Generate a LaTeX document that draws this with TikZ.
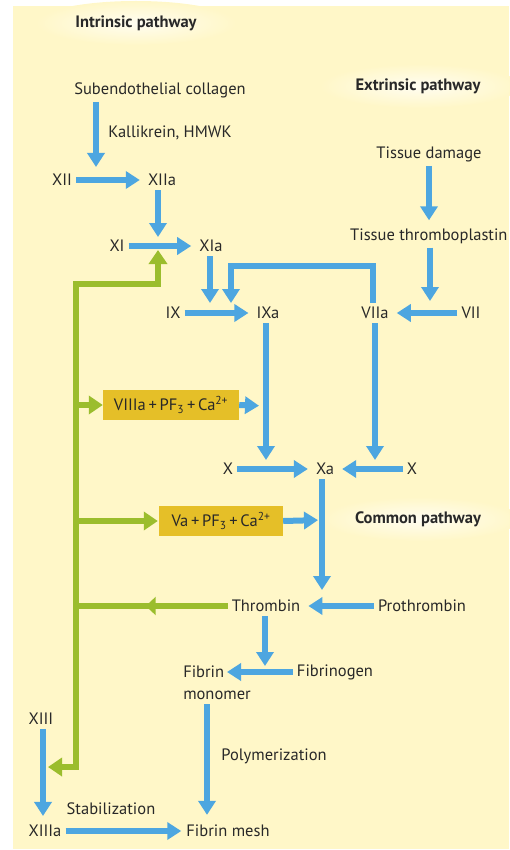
\documentclass[tikz,border=0pt]{standalone}
\usepackage{fontspec}
\setmainfont{PT Sans}
\usetikzlibrary{arrows.meta,decorations.markings}
\definecolor{bg}{RGB}{255,247,200}
\definecolor{cblue}{RGB}{77,166,224}
\definecolor{cgreen}{RGB}{155,189,45}
\definecolor{cgold}{RGB}{229,191,40}
\definecolor{ctext}{RGB}{40,40,40}
\begin{document}
\begin{tikzpicture}[x=1pt,y=-1pt,
  lbl/.style={inner sep=4pt, font=\fontsize{16.5}{19}\selectfont, text=ctext},
  head/.style={inner sep=4pt, font=\fontsize{16.5}{19}\selectfont\bfseries, text=ctext},
  gbox/.style={fill=cgold, inner sep=3pt, font=\fontsize{16.5}{19}\selectfont, text=ctext, minimum height=30pt},
  barrow/.style={draw=cblue, line width=6pt, -{Triangle[width=17pt,length=14pt]}, shorten >=4pt},
  gline/.style={draw=cgreen, line width=6pt},
  garrow/.style={gline, -{Triangle[width=18pt,length=14pt]}},
  glow/.style={inner color=white!75!bg, outer color=bg}
]
\useasboundingbox (0,0) rectangle (509,850);
\fill[bg] (13,6) rectangle (509,849);
% glows behind headings
\shade[glow] (136,23) ellipse [x radius=100, y radius=22];
\shade[glow] (420,86) ellipse [x radius=100, y radius=22];
\shade[glow] (420,519) ellipse [x radius=100, y radius=22];
% headings
\node[head] (intr) at (136,23) {Intrinsic pathway};
\node[head] (extr) at (418,86) {Extrinsic pathway};
\node[head] (comm) at (418,519) {Common pathway};
% intrinsic
\node[lbl] (sub) at (160,90) {Subendothelial collagen};
\node[lbl] (kal) at (170,133) {Kallikrein, HMWK};
\node[lbl] (XII) at (62,180) {XII};
\node[lbl] (XIIa) at (162,180) {XIIa};
\node[lbl] (XI) at (117,246) {XI};
\node[lbl] (XIa) at (211,246) {XIa};
% extrinsic
\node[lbl] (TD) at (429,154) {Tissue damage};
\node[lbl, anchor=west] (TT) at (346,236) {Tissue thromboplastin};
\node[lbl] (IX) at (173,313) {IX};
\node[lbl] (IXa) at (268,313) {IXa};
\node[lbl] (VIIa) at (375,313) {VIIa};
\node[lbl] (VII) at (471,313) {VII};
% cofactor boxes
\node[gbox, minimum width=136pt] (VIIIa) at (171,405) {VIIIa\,+\,PF\textsubscript{3}\,+\,Ca\textsuperscript{2+}};
\node[gbox, minimum width=124pt] (Va) at (221,521) {Va\,+\,PF\textsubscript{3}\,+\,Ca\textsuperscript{2+}};
% common
\node[lbl] (X1) at (228,469) {X};
\node[lbl] (Xa) at (325,469) {Xa};
\node[lbl] (X2) at (412,469) {X};
\node[lbl] (Thr) at (266,606) {Thrombin};
\node[lbl] (Pro) at (422,606) {Prothrombin};
\node[lbl, align=left, font=\fontsize{16.5}{22}\selectfont] (FM) at (217,683) {Fibrin\\monomer};
\node[lbl] (Fgen) at (335,672) {Fibrinogen};
\node[lbl] (Poly) at (274,756) {Polymerization};
\node[lbl] (XIII) at (41,719) {XIII};
\node[lbl] (Stab) at (111,809) {Stabilization};
\node[lbl] (XIIIa) at (45,831) {XIIIa};
\node[lbl] (mesh) at (228,831) {Fibrin mesh};
% coordinates on connectors
\coordinate (k1) at (96,178);
\coordinate (k2) at (158,245);
\coordinate (k7) at (210,312);
\coordinate (vtop) at (373,266);
\coordinate (k6) at (231,312);
\coordinate (k8) at (430,312);
\coordinate (k4) at (266,468);
\coordinate (k5) at (375,468);
\coordinate (kv) at (266,406);
\coordinate (kx) at (322,520);
\coordinate (k10) at (322,605);
\coordinate (k9) at (265,673);
\coordinate (k11) at (227,673);
\coordinate (tTop) at (76,284);
\coordinate (tBot) at (76,767);
\coordinate (k3) at (43,767);
% green feedback
\draw[gline, postaction={decorate}, decoration={markings, mark=at position 0.54 with {\arrow{Triangle[width=18pt,length=10pt]}}}] (Thr.west) -- (tTop |- Thr);
\draw[gline, {Triangle[width=18pt,length=14pt]}-{Triangle[width=18pt,length=14pt]}, shorten <=5pt, shorten >=5pt] (k2) |- (tTop) -- (tBot) -- (k3);
\draw[garrow] (tTop |- VIIIa) -- (VIIIa.west);
\draw[garrow, shorten >=1pt] (tTop |- Va) -- (Va.west);
% blue arrows
\draw[barrow, shorten >=11pt] (sub.south -| k1) -- (k1);
\draw[barrow] (XII) -- (XIIa);
\draw[barrow, shorten >=8pt] (XIIa.south -| k2) -- (k2);
\draw[barrow] (XI) -- (XIa);
\draw[barrow, shorten >=9pt] (XIa.south -| k7) -- (k7);
\draw[barrow] (TD) -- (TD |- TT.north);
\draw[barrow, shorten >=11pt] (TT.south -| k8) -- (k8);
\draw[barrow, shorten >=9pt] (VIIa.north -| vtop) -- (vtop) -| (k6);
\draw[barrow] (IX) -- (IXa);
\draw[barrow] (VII) -- (VIIa);
\draw[barrow, shorten >=8pt] (IXa.south -| k4) -- (k4);
\draw[barrow, shorten >=8pt] (VIIa.south -| k5) -- (k5);
\draw[barrow, shorten >=7pt] (VIIIa.east) -- (kv);
\draw[barrow] (X1) -- (Xa);
\draw[barrow] (X2) -- (Xa);
\draw[barrow, shorten >=4pt] (Va.east) -- (kx);
\draw[barrow, shorten >=15pt] (Xa.south -| k10) -- (k10);
\draw[barrow] (Pro) -- (Thr);
\draw[barrow, shorten >=7pt] (Thr.south -| k9) -- (k9);
\draw[barrow, shorten >=0pt] (Fgen.west) -- (Fgen.west -| k11);
\draw[barrow, shorten >=6pt] (FM.south -| 207,0) -- (mesh.north -| 207,0);
\draw[barrow, shorten >=5pt] (XIII.south -| k3) -- (XIIIa.north -| k3);
\draw[barrow, shorten >=1pt] (XIIIa) -- (mesh);
\end{tikzpicture}
\end{document}
